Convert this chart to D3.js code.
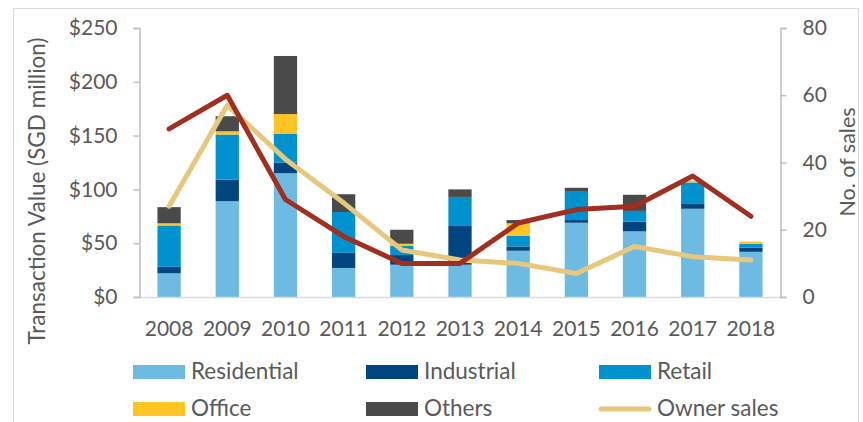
<!DOCTYPE html>
<html>
<head>
<meta charset="utf-8">
<script src="https://cdn.jsdelivr.net/npm/d3@7"></script>
<style>
  html, body { margin: 0; padding: 0; background: #fff; }
  svg { display: block; }
  text { font-family: "Lato", "Liberation Sans", sans-serif; fill: #595959; }
</style>
</head>
<body>
<svg id="chart" width="863" height="422"></svg>
<script>
const years = ["2008","2009","2010","2011","2012","2013","2014","2015","2016","2017","2018"];
const residential = [22, 89, 115, 27, 30, 30, 43, 69, 61, 82, 42];
const industrial  = [6, 20, 10, 14, 9, 36, 4, 2.5, 9, 4.5, 4];
const retail      = [38.5, 42, 26.5, 38, 8.5, 27, 10, 27, 10, 20, 3.5];
const office      = [2, 3, 18.5, 0, 2, 0, 11.5, 0, 0, 1.5, 2];
const others      = [15, 14, 54, 16.5, 13, 7, 3, 3, 15, 0, 0];
const ownerSales      = [27, 57, 41, 28, 14, 11, 10, 7, 15, 12, 11];
const collectiveSales = [50, 60, 29, 18, 10, 10, 22, 26, 27, 36, 24];
const leftTicks  = [0, 50, 100, 150, 200, 250];
const rightTicks = [0, 20, 40, 60, 80];

const seriesNames = ["Residential","Industrial","Retail","Office","Others"];
const seriesValues = [residential, industrial, retail, office, others];
const colors = { Residential:"#6DBBE3", Industrial:"#00457F", Retail:"#0092CF", Office:"#FEC424", Others:"#4A4A4A" };
const ownerColor = "#E6C77C";
const collectiveColor = "#A02F20";

const rows = years.map((y, i) => {
  const r = { year: y };
  seriesNames.forEach((n, k) => r[n] = seriesValues[k][i]);
  return r;
});

const svg = d3.select("#chart");
const L = 140, R = 780, T = 28, B = 297;

// frame
svg.append("rect").attr("x", 13.5).attr("y", 8.5).attr("width", 845).attr("height", 430)
  .attr("fill", "none").attr("stroke", "#d9d9d9").attr("stroke-width", 1);

const x = d3.scaleBand().domain(years).range([L, R]).paddingInner(0.6).paddingOuter(0.3);
const yL = d3.scaleLinear().domain([0, 250]).range([B, T]);
const yR = d3.scaleLinear().domain([0, 80]).range([B, T]);

// bars
const stack = d3.stack().keys(seriesNames)(rows);
svg.append("g").selectAll("g").data(stack).join("g")
  .attr("fill", d => colors[d.key])
  .selectAll("rect").data(d => d).join("rect")
  .attr("x", d => x(d.data.year))
  .attr("width", x.bandwidth())
  .attr("y", d => yL(d[1]))
  .attr("height", d => yL(d[0]) - yL(d[1]));

// bottom axis line
svg.append("line").attr("x1", L).attr("x2", R).attr("y1", B + 0.5).attr("y2", B + 0.5)
  .attr("stroke", "#d9d9d9").attr("stroke-width", 1.5);

// left axis
const gL = svg.append("g").attr("transform", `translate(${L - 0.5},0)`)
  .call(d3.axisLeft(yL).tickValues(leftTicks).tickFormat(d => "$" + d).tickSize(6).tickPadding(16));
// right axis
const gR = svg.append("g").attr("transform", `translate(${R + 0.5},0)`)
  .call(d3.axisRight(yR).tickValues(rightTicks).tickSize(6).tickPadding(16));
// bottom labels
const gB = svg.append("g").attr("transform", `translate(0,${B})`)
  .call(d3.axisBottom(x).tickSize(0).tickPadding(24));
gB.select(".domain").remove();

[gL, gR, gB].forEach(g => {
  g.selectAll("path.domain").attr("stroke", "#bfbfbf").attr("stroke-width", 1.5);
  g.selectAll(".tick line").attr("stroke", "#bfbfbf").attr("stroke-width", 1.5);
  g.selectAll("text").attr("font-family", "Lato, 'Liberation Sans', sans-serif")
    .attr("font-size", 21).attr("fill", "#595959");
});

// lines
const cx = d => x(d) + x.bandwidth() / 2;
const lineGen = vals => d3.line().x((d, i) => cx(years[i])).y(d => yR(d))(vals);
svg.append("path").attr("d", lineGen(ownerSales)).attr("fill", "none")
  .attr("stroke", ownerColor).attr("stroke-width", 5).attr("stroke-linecap", "round").attr("stroke-linejoin", "round");
svg.append("path").attr("d", lineGen(collectiveSales)).attr("fill", "none")
  .attr("stroke", collectiveColor).attr("stroke-width", 5).attr("stroke-linecap", "round").attr("stroke-linejoin", "round");

// axis titles
svg.append("text").attr("transform", "translate(45,191) rotate(-90)")
  .attr("text-anchor", "middle").attr("font-size", 22.5).text("Transaction Value (SGD million)");
svg.append("text").attr("transform", "translate(855,162) rotate(-90)")
  .attr("text-anchor", "middle").attr("font-size", 21.5).text("No. of sales");

// legend
const legendItems = [
  { name: "Residential", type: "rect", col: 0, row: 0 },
  { name: "Industrial", type: "rect", col: 1, row: 0 },
  { name: "Retail", type: "rect", col: 2, row: 0 },
  { name: "Office", type: "rect", col: 0, row: 1 },
  { name: "Others", type: "rect", col: 1, row: 1 },
  { name: "Owner sales", type: "line", col: 2, row: 1 }
];
const colX = [133, 366, 599], rowBase = [379, 416];
const lg = svg.append("g");
legendItems.forEach(it => {
  const x0 = colX[it.col], yb = rowBase[it.row];
  if (it.type === "rect") {
    lg.append("rect").attr("x", x0).attr("y", yb - 14).attr("width", 52).attr("height", 14).attr("fill", colors[it.name]);
  } else {
    lg.append("line").attr("x1", x0 + 2).attr("x2", x0 + 50).attr("y1", yb - 7).attr("y2", yb - 7)
      .attr("stroke", ownerColor).attr("stroke-width", 5).attr("stroke-linecap", "round");
  }
  lg.append("text").attr("x", x0 + 58).attr("y", yb)
    .attr("font-size", 22.5).text(it.name);
});
</script>
</body>
</html>
